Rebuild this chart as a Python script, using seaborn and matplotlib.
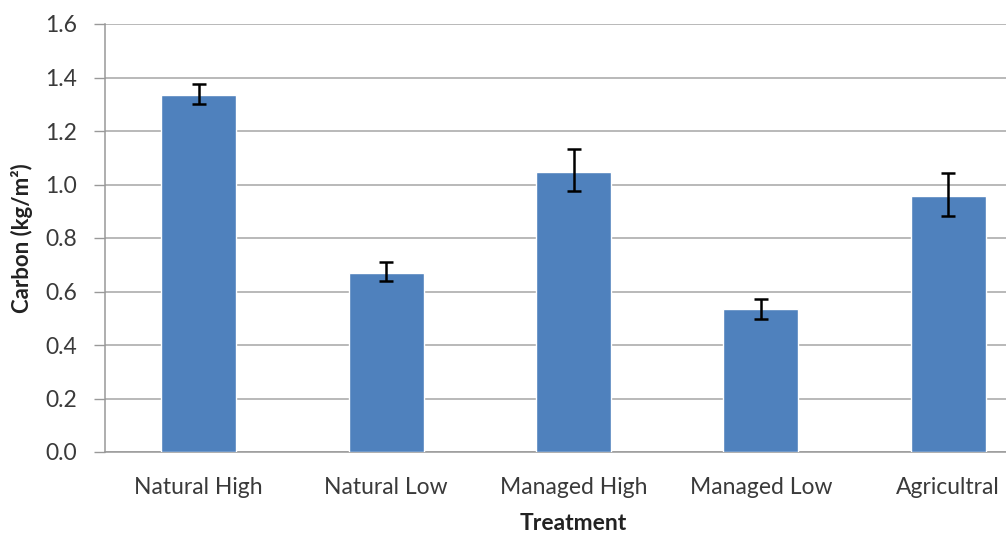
import numpy as np
import pandas as pd
import matplotlib
matplotlib.use("Agg")
import matplotlib.pyplot as plt
import seaborn as sns

categories = ["Natural High", "Natural Low", "Managed High", "Managed Low", "Agricultral"]
carbon = [1.335, 0.670, 1.048, 0.535, 0.957]
err_low = [1.300, 0.638, 0.975, 0.497, 0.882]
err_high = [1.376, 0.709, 1.133, 0.572, 1.043]
yticks = [0.0, 0.2, 0.4, 0.6, 0.8, 1.0, 1.2, 1.4, 1.6]

sns.set_theme(style="white")
plt.rcParams['font.family'] = ['Lato', 'DejaVu Sans']

df = pd.DataFrame({"Treatment": categories, "Carbon": carbon})

fig = plt.figure(figsize=(10.06, 5.36), dpi=100)
W, H = 1006, 536
x0, x1 = 105, 1042
y0, y1 = 452, 24
ax = fig.add_axes([x0 / W, 1 - y0 / H, (x1 - x0) / W, (y0 - y1) / H])

sns.barplot(data=df, x="Treatment", y="Carbon", color="#4f81bd", saturation=1,
            width=0.4, errorbar=None, ax=ax, zorder=3)

xs = np.arange(len(categories))
yerr = np.array([np.array(carbon) - np.array(err_low), np.array(err_high) - np.array(carbon)])
ax.errorbar(xs, carbon, yerr=yerr, fmt="none", ecolor="black", elinewidth=1.8,
            capsize=5, capthick=1.8, zorder=4)

ax.set_xlim(-0.5, len(categories) - 0.5)
ax.set_ylim(0, 1.6)
ax.set_yticks(yticks)
ax.set_yticklabels([f"{v:.1f}" for v in yticks])
ax.yaxis.grid(True, color="#a6a6a6", linewidth=1.1, zorder=0)
ax.set_axisbelow(True)

# category boundary ticks (Excel style)
ax.set_xticks(xs)
ax.set_xticklabels(categories)
ax.set_xticks(np.arange(-0.5, len(categories) + 0.5, 1.0), minor=True)
ax.tick_params(axis="x", which="major", length=0, pad=18, labelsize=16.5, labelcolor="#3a3a3a")
ax.tick_params(axis="x", which="minor", length=7, width=1, color="#999999", direction="out")
ax.tick_params(axis="y", which="major", length=8, width=1, color="#999999", direction="out",
               labelsize=16.5, labelcolor="#3a3a3a", pad=12, left=True)

for side in ["top", "right"]:
    ax.spines[side].set_visible(False)
for side in ["left", "bottom"]:
    ax.spines[side].set_color("#999999")
    ax.spines[side].set_linewidth(1.1)

ax.set_xlabel("Treatment", fontsize=16.5, fontweight="bold", color="#222222", labelpad=11)
ax.set_ylabel("Carbon (kg/m²)", fontsize=16, fontweight="bold", color="#222222", labelpad=9)

fig.savefig("out.png", dpi=100)
